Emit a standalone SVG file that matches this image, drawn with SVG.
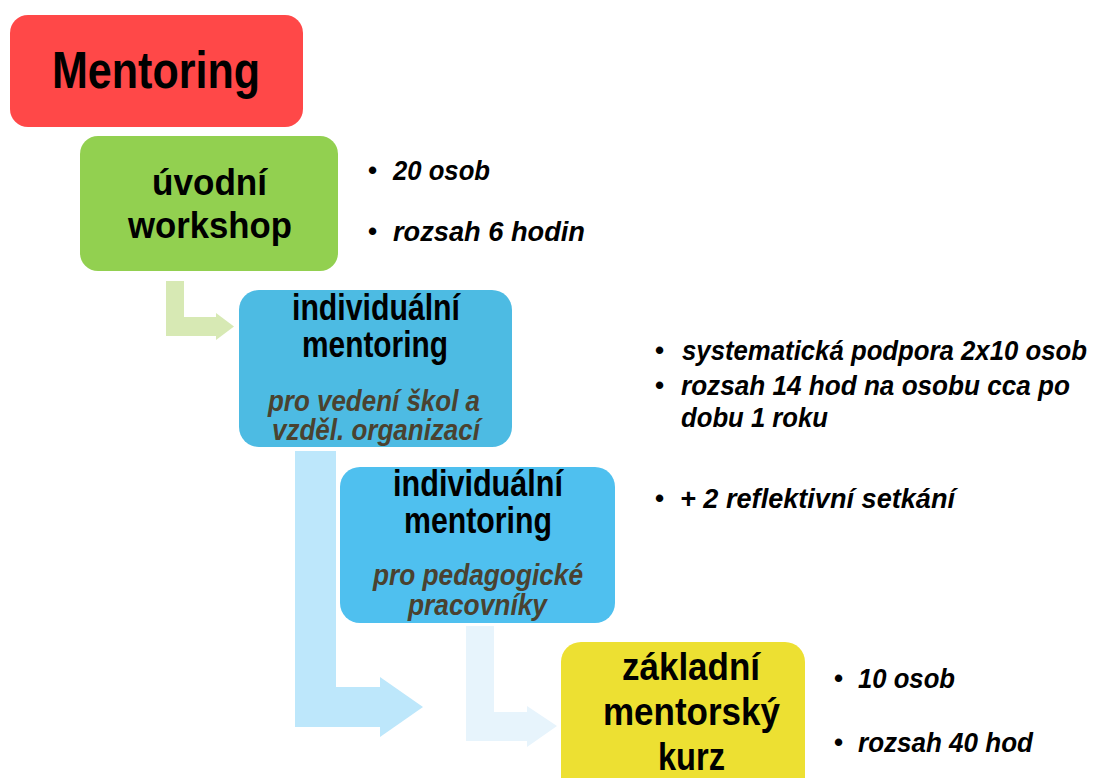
<svg xmlns="http://www.w3.org/2000/svg" width="1095" height="778" viewBox="0 0 1095 778">
<style>
.t{font-family:"Liberation Sans",Arial,sans-serif;font-weight:bold;fill:#000}
.h{font-size:36px}
.s{font-family:"Liberation Sans",Arial,sans-serif;font-weight:bold;font-style:italic;font-size:29px;fill:#4A4230}
.b{font-family:"Liberation Sans",Arial,sans-serif;font-weight:bold;font-style:italic;font-size:25px;fill:#000}
.d{font-family:"Liberation Sans",Arial,sans-serif;font-weight:bold;font-size:26px;fill:#000}
</style>
<rect width="1095" height="778" fill="#fff"/>
<g id="connectors">
<path d="M166,281 H184 V317 H216 V313 L234,326.5 L216,340 V336 H166 Z" fill="#D7E9B4"/>
<path d="M295,451 H336 V687 H380 V677 L423,707 L380,737 V727 H295 Z" fill="#BDE7FB"/>
<path d="M466,626 H494 V712 H527 V706 L557,726 L527,747 V741 H466 Z" fill="#E7F4FC"/>
</g>
<g id="mentoring">
<rect x="10" y="15" width="293" height="112" rx="18" fill="#FF4848"/>
<text class="t" x="52" y="88" font-size="52" textLength="208" lengthAdjust="spacingAndGlyphs">Mentoring</text>
</g>
<g id="uvodni-workshop">
<rect x="80" y="136" width="258" height="135" rx="18" fill="#92D050"/>
<text class="t h" x="152" y="195" textLength="115" lengthAdjust="spacingAndGlyphs">úvodní</text>
<text class="t h" x="128" y="238" textLength="164" lengthAdjust="spacingAndGlyphs">workshop</text>
</g>
<g id="individualni-mentoring-vedeni">
<rect x="239" y="290" width="273" height="157" rx="20" fill="#4DBBE3"/>
<text class="t h" x="292" y="320" textLength="168" lengthAdjust="spacingAndGlyphs">individuální</text>
<text class="t h" x="302" y="357" textLength="146" lengthAdjust="spacingAndGlyphs">mentoring</text>
<text class="s" x="268" y="411" textLength="212" lengthAdjust="spacingAndGlyphs">pro vedení škol a</text>
<text class="s" x="272" y="440" textLength="208" lengthAdjust="spacingAndGlyphs">vzděl. organizací</text>
</g>
<g id="individualni-mentoring-pedagogove">
<rect x="340" y="467" width="275" height="156" rx="20" fill="#4FC0EF"/>
<text class="t h" x="393" y="496" textLength="170" lengthAdjust="spacingAndGlyphs">individuální</text>
<text class="t h" x="404" y="533" textLength="148" lengthAdjust="spacingAndGlyphs">mentoring</text>
<text class="s" x="373" y="585" textLength="210" lengthAdjust="spacingAndGlyphs">pro pedagogické</text>
<text class="s" x="408" y="615" textLength="139" lengthAdjust="spacingAndGlyphs">pracovníky</text>
</g>
<g id="zakladni-mentorsky-kurz">
<rect x="561" y="642" width="244" height="160" rx="20" fill="#EDE032"/>
<text class="t" x="622" y="680" font-size="38" textLength="138" lengthAdjust="spacingAndGlyphs">základní</text>
<text class="t" x="603" y="725" font-size="38" textLength="177" lengthAdjust="spacingAndGlyphs">mentorský</text>
<text class="t" x="658" y="770" font-size="38" textLength="67" lengthAdjust="spacingAndGlyphs">kurz</text>
</g>
<g id="notes-workshop">
<text class="d" x="368" y="179">•</text>
<text class="b" transform="translate(393,180) scale(1,1.12)" textLength="97" lengthAdjust="spacingAndGlyphs">20 osob</text>
<text class="d" x="368" y="240">•</text>
<text class="b" transform="translate(393,241) scale(1,1.12)" textLength="192" lengthAdjust="spacingAndGlyphs">rozsah 6 hodin</text>
</g>
<g id="notes-mentoring">
<text class="d" x="655" y="359">•</text>
<text class="b" transform="translate(682,360) scale(1,1.12)" textLength="405" lengthAdjust="spacingAndGlyphs">systematická podpora 2x10 osob</text>
<text class="d" x="655" y="394">•</text>
<text class="b" transform="translate(681,395) scale(1,1.12)" textLength="389" lengthAdjust="spacingAndGlyphs">rozsah 14 hod na osobu cca po</text>
<text class="b" transform="translate(681,427) scale(1,1.12)" textLength="147" lengthAdjust="spacingAndGlyphs">dobu 1 roku</text>
<text class="d" x="655" y="507">•</text>
<text class="b" transform="translate(680,508) scale(1,1.12)" textLength="275" lengthAdjust="spacingAndGlyphs">+ 2 reflektivní setkání</text>
</g>
<g id="notes-kurz">
<text class="d" x="834" y="687">•</text>
<text class="b" transform="translate(858,688) scale(1,1.12)" textLength="97" lengthAdjust="spacingAndGlyphs">10 osob</text>
<text class="d" x="834" y="751">•</text>
<text class="b" transform="translate(858,752) scale(1,1.12)" textLength="175" lengthAdjust="spacingAndGlyphs">rozsah 40 hod</text>
</g>
</svg>
